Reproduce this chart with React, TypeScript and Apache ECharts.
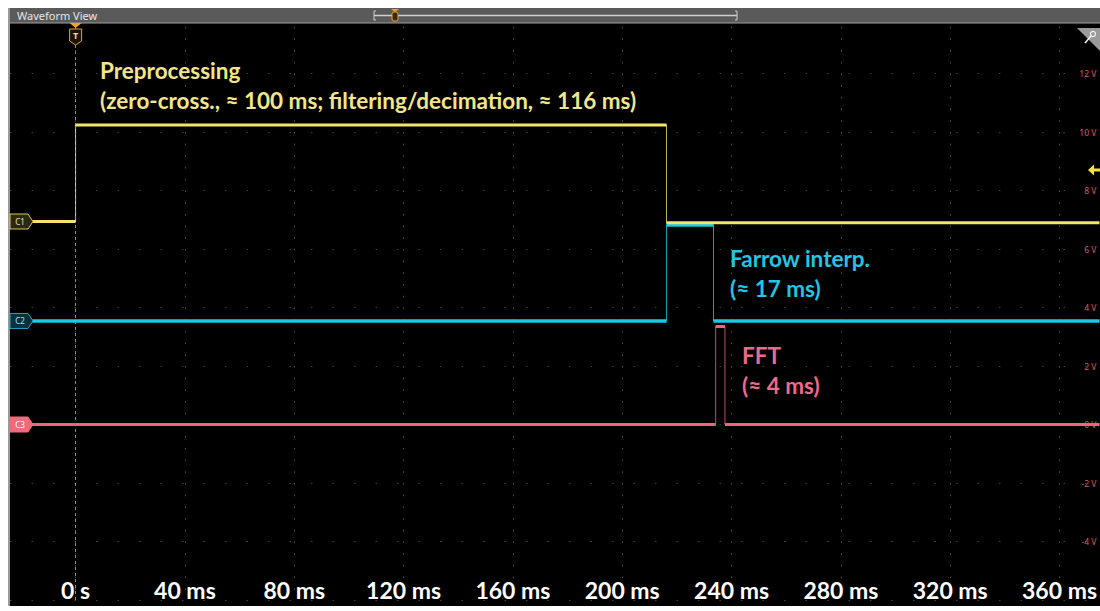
import React, { useEffect, useRef } from "react";
import * as echarts from "echarts";

// ---- axes ----
const xMin = -24;
const xMax = 374.6;
const yMin = -6;
const yMax = 14;
const xTickValues = [0, 40, 80, 120, 160, 200, 240, 280, 320, 360];

// ---- traces (time in ms, level in V) ----
// C1 yellow: Preprocessing (~216 ms)
const c1Time = [-24, 0, 0, 216.2, 216.2, 374.6];
const c1Volt = [6.94, 6.94, 10.24, 10.24, 6.9, 6.9];
// C2 cyan: Farrow interpolation (~17 ms)
const c2Time = [-24, 216.2, 216.2, 233.4, 233.4, 374.6];
const c2Volt = [3.54, 3.54, 6.82, 6.82, 3.54, 3.54];
// C3 pink: FFT (~4 ms)
const c3Time = [-24, 234.2, 234.2, 237.6, 237.6, 374.6];
const c3Volt = [0, 0, 3.35, 3.35, 0, 0];

const YELLOW = "#f4e46a";
const CYAN = "#1ec8e8";
const PINK = "#f0647c";

function pts(t: number[], v: number[]) {
  return t.map((x, i) => [x, v[i]]);
}
function flats(t: number[], v: number[]) {
  const out: any[] = [];
  for (let i = 0; i < t.length - 1; i++) {
    if (v[i] === v[i + 1] && t[i] !== t[i + 1]) {
      out.push([t[i], v[i]], [t[i + 1], v[i + 1]], [t[i + 1], "-"]);
    }
  }
  return out;
}

export default function App() {
  const ref = useRef<HTMLDivElement>(null);
  useEffect(() => {
    const chart = echarts.init(ref.current!, null, { renderer: "svg" });
    const trace = (name: string, t: number[], v: number[], color: string, w: number, z: number) => [
      {
        name: name + "-edge",
        type: "line",
        data: pts(t, v),
        symbol: "none",
        lineStyle: { color, width: 1, opacity: 0.8 },
        z,
        silent: true,
      },
      {
        name,
        type: "line",
        data: flats(t, v),
        symbol: "none",
        connectNulls: false,
        lineStyle: { color, width: w },
        z: z + 1,
        silent: true,
      },
    ];
    const option: any = {
      animation: false,
      backgroundColor: "#000",
      grid: { left: 2, right: 0, top: 7, bottom: 6 },
      xAxis: {
        type: "value",
        min: xMin,
        max: xMax,
        axisLine: { show: false },
        axisTick: { show: false, customValues: xTickValues },
        axisLabel: {
          customValues: xTickValues,
          inside: true,
          margin: -1,
          color: "#ffffff",
          fontFamily: "Lato",
          fontWeight: "bold",
          fontSize: 23,
          formatter: (v: number) => (v === 0 ? "0 s" : `${v} ms`),
        },
        splitLine: { show: true, lineStyle: { color: "#4e4e4e", width: 1, type: [1.5, 10.2] } },
      },
      yAxis: {
        type: "value",
        position: "right",
        min: yMin,
        max: yMax,
        interval: 2,
        axisLine: { show: false },
        axisTick: { show: false },
        axisLabel: {
          inside: true,
          margin: 3,
          color: "#d05a6c",
          fontSize: 8.5,
          fontFamily: "Noto Sans",
          formatter: (v: number) => (v === yMax || v === yMin ? "" : `${v} V`),
        },
        splitLine: { show: true, lineStyle: { color: "#444444", width: 1, type: [1.5, 20] } },
      },
      series: [
        {
          type: "line",
          data: [],
          markLine: {
            silent: true,
            symbol: "none",
            label: { show: false },
            lineStyle: { color: "#8c8c8c", type: [3, 3], width: 1 },
            data: [{ xAxis: 0 }],
          },
        },
        ...trace("C3", c3Time, c3Volt, PINK, 3, 3),
        ...trace("C2", c2Time, c2Volt, CYAN, 3.5, 5),
        ...trace("C1", c1Time, c1Volt, YELLOW, 3, 7),
      ],
    };
    chart.setOption(option);

    const badge = (label: string, level: number, fill: string, stroke: string, text: string) => {
      const p = chart.convertToPixel({ gridIndex: 0 }, [xMin, level]) as number[];
      const y = p[1];
      return [
        {
          type: "polygon",
          shape: { points: [[2, y - 7.5], [20, y - 7.5], [25, y], [20, y + 7.5], [2, y + 7.5]] },
          style: { fill, stroke, lineWidth: 1 },
          z: 100,
        },
        {
          type: "text",
          x: 12,
          y,
          style: { text: label, fill: text, fontSize: 8, fontFamily: "Noto Sans", align: "center", verticalAlign: "middle" },
          z: 101,
        },
      ];
    };

    const annot = (text: string, x: number, y: number, fill: string) => ({
      type: "text",
      x,
      y,
      style: { text, fill, fontSize: 22.5, fontWeight: "bold", fontFamily: "Lato", verticalAlign: "middle" },
      z: 90,
    });

    const tx = (chart.convertToPixel({ gridIndex: 0 }, [0, 0]) as number[])[0];

    const graphic: any[] = [
      // left border
      { type: "rect", shape: { x: 0, y: 0, width: 2, height: 598 }, style: { fill: "#9a9a9a" }, z: 100 },
      // title bar
      { type: "rect", shape: { x: 2, y: 0, width: 1090, height: 15 }, style: { fill: "#5a5a5a" }, z: 100 },
      { type: "line", shape: { x1: 2, y1: 15, x2: 1092, y2: 15 }, style: { stroke: "#a0a0a0", lineWidth: 1 }, z: 101 },
      {
        type: "text",
        x: 9,
        y: 7.5,
        style: { text: "Waveform View", fill: "#e6e6e6", fontSize: 11, fontFamily: "Noto Sans", verticalAlign: "middle" },
        z: 101,
      },
      // position indicator
      { type: "polyline", shape: { points: [[368, 3], [366, 3], [366, 12], [368, 12]] }, style: { stroke: "#cfcfcf", fill: "none", lineWidth: 1 }, z: 101 },
      { type: "polyline", shape: { points: [[727, 3], [729, 3], [729, 12], [727, 12]] }, style: { stroke: "#cfcfcf", fill: "none", lineWidth: 1 }, z: 101 },
      { type: "line", shape: { x1: 366, y1: 7.5, x2: 729, y2: 7.5 }, style: { stroke: "#cfcfcf", lineWidth: 1.5 }, z: 101 },
      { type: "polygon", shape: { points: [[383, 1], [391, 1], [387, 4]] }, style: { fill: "#f0a030" }, z: 102 },
      { type: "rect", shape: { x: 384, y: 4, width: 6, height: 9, r: 2 }, style: { fill: "#3a2a10", stroke: "#f0a030", lineWidth: 1 }, z: 102 },
      // trigger marker
      { type: "polygon", shape: { points: [[tx - 6, 15], [tx + 6, 15], [tx, 20]] }, style: { fill: "#f0a030" }, z: 102 },
      {
        type: "polygon",
        shape: { points: [[tx - 6, 21], [tx + 6, 21], [tx + 6, 33], [tx, 37], [tx - 6, 33]] },
        style: { fill: "#1a1206", stroke: "#e8a030", lineWidth: 1 },
        z: 102,
      },
      {
        type: "text",
        x: tx,
        y: 27,
        style: { text: "T", fill: "#f6d7a0", fontSize: 9, fontWeight: "bold", fontFamily: "Noto Sans", align: "center", verticalAlign: "middle" },
        z: 103,
      },
      // top-right corner tab
      { type: "polygon", shape: { points: [[1069, 20], [1092, 20], [1092, 43]] }, style: { fill: "#9a9a9a" }, z: 102 },
      { type: "line", shape: { x1: 1077, y1: 35, x2: 1083, y2: 28 }, style: { stroke: "#f4f4f4", lineWidth: 1.5 }, z: 103 },
      { type: "circle", shape: { cx: 1085, cy: 26, r: 2.5 }, style: { stroke: "#f4f4f4", fill: "none", lineWidth: 1.2 }, z: 103 },
      // trigger level arrow
      {
        type: "polygon",
        shape: { points: [[1080, 162], [1086, 156.5], [1086, 160.5], [1092, 160.5], [1092, 163.5], [1086, 163.5], [1086, 167.5]] },
        style: { fill: "#f4e040" },
        z: 102,
      },
      ...badge("C1", c1Volt[0], "#2a2810", "#d8c860", "#ece4a8"),
      ...badge("C2", c2Volt[0], "#0a3040", "#1ea6c6", "#a8e4f0"),
      ...badge("C3", c3Volt[0], "#f06a7c", "#f06a7c", "#ffffff"),
      annot("Preprocessing", 92, 62, "#f3e68a"),
      annot("(zero-cross., \u2248 100 ms; filtering/decimation, \u2248 116 ms)", 92, 92, "#f3e68a"),
      annot("Farrow interp.", 722, 250, "#22c6e4"),
      annot("(\u2248 17 ms)", 722, 280, "#22c6e4"),
      annot("FFT", 734, 347, "#ee6a8a"),
      annot("(\u2248 4 ms)", 734, 377, "#ee6a8a"),
    ];
    chart.setOption({ graphic });
    return () => chart.dispose();
  }, []);
  return <div ref={ref} style={{ position: "absolute", left: 8, top: 8, width: 1092, height: 598 }} />;
}
